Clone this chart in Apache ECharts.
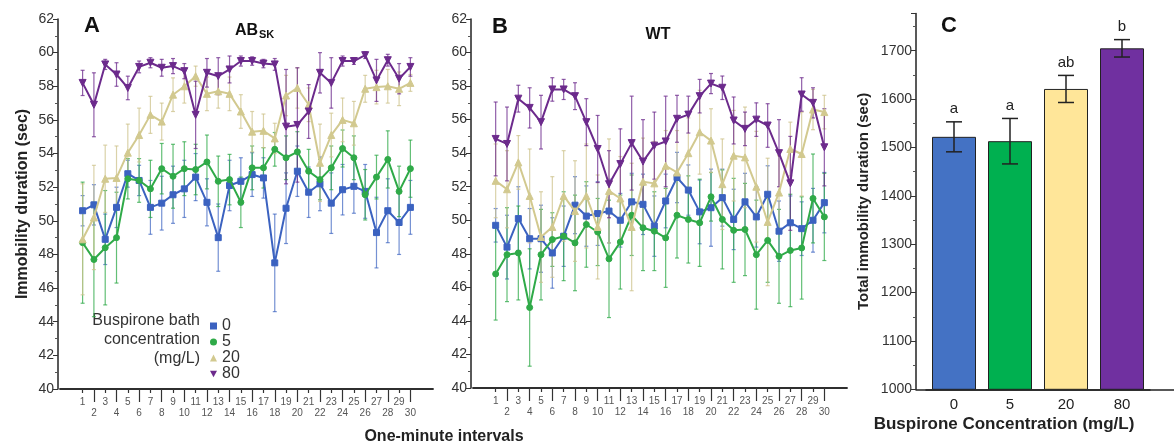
<!DOCTYPE html>
<html>
<head>
<meta charset="utf-8">
<script src="https://cdn.jsdelivr.net/npm/echarts@6/dist/echarts.min.js"></script>
<style>
  html, body { margin: 0; background: #fff; }
  #chart { width: 1174px; height: 447px; }
</style>
</head>
<body>
<div id="chart"></div>
<script>
// one-minute intervals
const minutes = [1, 2, 3, 4, 5, 6, 7, 8, 9, 10, 11, 12, 13, 14, 15, 16, 17, 18, 19, 20, 21, 22, 23, 24, 25, 26, 27, 28, 29, 30]

// panel A - AB_SK, mean and SEM per concentration
const absk0 = [50.6, 50.95, 48.9, 50.8, 52.8, 52.4, 50.8, 51.05, 51.55, 51.9, 52.6, 51.1, 49.0, 52.1, 52.35, 52.75, 52.55, 47.5, 50.75, 52.95, 51.7, 52.2, 51.05, 51.85, 52.05, 51.75, 49.3, 50.6, 49.9, 50.8]
const absk0Err = [0.9, 1.2, 1.5, 1.2, 0.8, 0.9, 1.6, 1.6, 1.7, 1.7, 1.4, 1.4, 2.0, 1.5, 1.4, 1.3, 1.2, 2.9, 2.1, 1.5, 1.5, 1.6, 1.8, 1.5, 1.6, 1.6, 2.1, 1.9, 1.9, 1.6]
const absk5 = [48.7, 47.7, 48.4, 49.0, 52.5, 52.4, 51.9, 53.1, 52.65, 53.1, 53.05, 53.5, 52.35, 52.45, 51.1, 53.15, 53.15, 54.25, 53.75, 54.1, 52.95, 52.45, 53.15, 54.3, 53.75, 51.55, 52.6, 53.65, 51.75, 53.1]
const absk5Err = [3.6, 3.4, 3.4, 2.7, 1.2, 1.3, 1.7, 1.5, 1.9, 1.6, 1.5, 1.6, 1.5, 1.5, 1.5, 1.3, 1.2, 1.0, 1.3, 1.2, 1.3, 1.2, 1.3, 1.1, 1.3, 1.5, 1.3, 1.7, 1.5, 1.7]
const absk20 = [48.9, 50.2, 52.5, 52.55, 54.05, 55.1, 56.3, 55.9, 57.5, 58.0, 58.6, 57.55, 57.7, 57.55, 56.5, 55.3, 55.35, 54.9, 57.45, 57.9, 56.9, 53.45, 55.1, 56.0, 55.8, 57.85, 57.95, 58.0, 57.85, 58.2]
const absk20Err = [3.3, 3.1, 2.0, 1.9, 1.7, 1.6, 1.1, 1.1, 1.0, 1.0, 0.6, 1.0, 1.0, 1.0, 1.0, 1.2, 1.0, 0.9, 1.2, 1.2, 1.0, 2.3, 1.3, 1.3, 1.3, 0.8, 1.0, 1.0, 1.0, 0.5]
const absk80 = [58.2, 56.9, 59.3, 58.7, 57.9, 59.15, 59.4, 59.1, 59.2, 58.9, 56.3, 58.8, 58.6, 59.0, 59.5, 59.5, 59.35, 59.3, 55.6, 55.7, 56.5, 58.8, 58.2, 59.5, 59.5, 59.85, 58.35, 59.55, 58.45, 59.15]
const absk80Err = [0.75, 1.9, 0.3, 0.7, 0.7, 0.35, 0.3, 0.5, 0.45, 0.45, 2.0, 0.85, 1.1, 0.8, 0.3, 0.25, 0.25, 0.35, 3.4, 3.4, 1.6, 1.2, 1.5, 0.3, 0.2, 0.2, 1.25, 0.35, 0.9, 0.55]

// panel B - WT
const wt0 = [49.7, 48.4, 50.1, 48.9, 48.9, 48.05, 49.05, 50.9, 50.25, 50.4, 50.55, 50.0, 51.1, 50.95, 49.65, 51.15, 52.55, 51.8, 50.5, 50.75, 51.35, 50.05, 51.1, 50.2, 51.55, 49.35, 49.85, 49.5, 50.0, 51.05]
const wt0Err = [1.0, 1.9, 1.9, 1.8, 2.0, 2.1, 1.8, 1.7, 1.8, 1.9, 1.9, 1.6, 1.7, 1.8, 1.8, 1.6, 1.5, 1.5, 1.9, 2.3, 1.7, 1.8, 1.7, 1.8, 1.7, 1.8, 1.6, 1.6, 1.9, 1.8]
const wt5 = [46.8, 47.95, 48.05, 44.8, 47.95, 48.85, 49.05, 48.65, 49.75, 49.3, 47.7, 48.7, 50.3, 49.55, 49.35, 48.95, 50.3, 50.05, 49.85, 51.4, 50.05, 49.4, 49.45, 47.95, 48.8, 47.85, 48.2, 48.35, 51.3, 50.2]
const wt5Err = [2.75, 2.8, 2.8, 3.5, 2.7, 1.6, 2.65, 2.85, 2.55, 2.0, 3.5, 2.8, 2.4, 2.55, 2.35, 2.95, 2.55, 2.6, 2.6, 1.45, 2.95, 3.1, 2.75, 3.25, 2.5, 2.8, 3.35, 3.05, 2.65, 2.6]
const wt20 = [52.35, 51.85, 53.45, 51.45, 49.0, 49.6, 51.45, 50.55, 51.45, 49.6, 51.75, 51.3, 49.6, 52.3, 52.2, 53.25, 52.85, 54.0, 55.25, 54.75, 52.15, 53.85, 53.75, 52.0, 49.9, 51.65, 54.25, 53.95, 56.6, 56.45]
const wt20Err = [2.2, 2.3, 1.6, 2.8, 2.7, 3.0, 2.7, 3.0, 3.1, 3.1, 3.1, 2.5, 3.8, 2.6, 2.5, 2.1, 2.5, 2.1, 2.5, 1.9, 2.7, 2.7, 3.0, 3.3, 3.8, 2.2, 1.6, 2.5, 1.2, 1.0]
const wt80 = [54.85, 54.55, 57.25, 56.7, 55.85, 57.8, 57.8, 57.4, 55.85, 54.25, 52.15, 53.35, 54.6, 53.5, 54.45, 54.7, 56.05, 56.3, 57.4, 58.15, 57.9, 55.95, 55.45, 56.0, 55.65, 54.0, 52.2, 57.5, 57.0, 54.35]
const wt80Err = [2.2, 2.2, 0.8, 1.2, 1.6, 0.7, 0.6, 0.8, 1.4, 2.0, 2.0, 2.1, 2.8, 2.5, 2.0, 2.7, 1.4, 1.1, 1.0, 0.6, 0.7, 1.4, 1.0, 1.0, 1.3, 2.0, 2.8, 1.0, 0.9, 2.3]

// panel C - total immobility
const concLabels = ['0', '5', '20', '80']
const totalMean = [1522, 1513, 1621, 1705]
const totalErr = [31, 47, 28, 18]
const sigLetters = ['a', 'a', 'ab', 'b']

const FONT = '"Liberation Sans", Arial, sans-serif'
const DOWN_TRI = 'path://M0,0 L10,0 L5,9 Z'

const groups = [
  { name: '0', color: '#3b62c0', err: 'rgba(59,98,192,0.7)', symbol: 'rect', size: 6, rotate: 0, icon: 'rect' },
  { name: '5', color: '#2faa48', err: 'rgba(47,170,72,0.75)', symbol: 'circle', size: 6, rotate: 0, icon: 'circle' },
  { name: '20', color: '#d2c98f', err: 'rgba(205,195,140,0.75)', symbol: 'triangle', size: 7, rotate: 0, icon: 'triangle' },
  { name: '80', color: '#6c2a8c', err: 'rgba(108,42,140,0.75)', symbol: 'triangle', size: 7, rotate: 180, icon: DOWN_TRI }
]

// padded category axis: two empty slots each side of the 30 minutes
const xCats = ['-1', '0'].concat(minutes.map(String), ['31', '32'])
const isMinute = (i) => i >= 2 && i <= 31
const oddMinute = (i) => isMinute(i) && (i - 1) % 2 === 1
const evenMinute = (i) => isMinute(i) && (i - 1) % 2 === 0

const minuteAxes = (gridIndex) => {
  const base = {
    gridIndex,
    type: 'category',
    data: xCats,
    boundaryGap: false,
    position: 'bottom',
    axisLine: { lineStyle: { color: '#222', width: 1.5 } },
    splitLine: { show: false }
  }
  return [
    Object.assign({}, base, {
      axisTick: { interval: oddMinute, length: 4, lineStyle: { color: '#333', width: 1.2 } },
      axisLabel: { interval: oddMinute, margin: 8, fontSize: 10, color: '#555', fontFamily: FONT }
    }),
    Object.assign({}, base, {
      axisTick: { interval: evenMinute, length: 13, lineStyle: { color: '#333', width: 1.2 } },
      axisLabel: { interval: evenMinute, margin: 19, fontSize: 10, color: '#555', fontFamily: FONT }
    })
  ]
}

const durationAxis = (gridIndex, name) => ({
  gridIndex,
  type: 'value',
  min: 40,
  max: 62,
  interval: 2,
  offset: 2,
  name,
  nameLocation: 'middle',
  nameGap: 27,
  nameTextStyle: { fontSize: 16, fontWeight: 'bold', color: '#222', fontFamily: FONT },
  axisLine: { show: true, lineStyle: { color: '#222', width: 1.5 } },
  axisTick: { show: true, length: 5, lineStyle: { color: '#333' } },
  minorTick: { show: true, splitNumber: 2, length: 3, lineStyle: { color: '#555' } },
  splitLine: { show: false },
  axisLabel: { fontSize: 14, color: '#333', margin: 4, fontFamily: FONT }
})

// error bars drawn through the axis scale
const errorBar = (color, cap, width) => (params, api) => {
  const x = api.value(0)
  const lo = api.coord([x, api.value(1)])
  const hi = api.coord([x, api.value(2)])
  const st = { stroke: color, lineWidth: width }
  return {
    type: 'group',
    children: [
      { type: 'line', shape: { x1: lo[0], y1: lo[1], x2: hi[0], y2: hi[1] }, style: st },
      { type: 'line', shape: { x1: lo[0] - cap, y1: lo[1], x2: lo[0] + cap, y2: lo[1] }, style: st },
      { type: 'line', shape: { x1: hi[0] - cap, y1: hi[1], x2: hi[0] + cap, y2: hi[1] }, style: st }
    ]
  }
}

const panelSeries = (xIdx, yIdx, means, errs) => {
  const errSeries = []
  const lineSeries = []
  groups.forEach((g, k) => {
    errSeries.push({
      type: 'custom',
      name: g.name,
      xAxisIndex: xIdx,
      yAxisIndex: yIdx,
      renderItem: errorBar(g.err, 2, 1.2),
      encode: { x: 0, y: [1, 2] },
      data: means[k].map((m, i) => [i + 2, m - errs[k][i], m + errs[k][i]]),
      z: 2,
      silent: true
    })
    lineSeries.push({
      type: 'line',
      name: g.name,
      xAxisIndex: xIdx,
      yAxisIndex: yIdx,
      data: means[k].map((m, i) => [i + 2, m]),
      symbol: g.symbol,
      symbolSize: g.size,
      symbolRotate: g.rotate,
      lineStyle: { color: g.color, width: 2 },
      itemStyle: { color: g.color, borderColor: g.color, borderWidth: 1 },
      z: 3 + k
    })
  })
  return errSeries.concat(lineSeries)
}

const chart = echarts.init(document.getElementById('chart'))

const option = {
  animation: false,
  backgroundColor: '#fff',
  textStyle: { fontFamily: FONT },
  grid: [
    { left: 60, right: 741, top: 19, bottom: 58, outerBoundsMode: 'none' },
    { left: 473, right: 327, top: 19, bottom: 59, outerBoundsMode: 'none' },
    { left: 926, right: 24, top: 13.5, bottom: 57.7, outerBoundsMode: 'none' },
    { left: 916, right: 0, top: 13.5, bottom: 57.7, outerBoundsMode: 'none' }
  ],
  xAxis: minuteAxes(0).concat(minuteAxes(1), [
    {
      gridIndex: 2,
      type: 'category',
      data: concLabels,
      axisLine: { lineStyle: { color: '#222', width: 1.5 } },
      axisTick: { alignWithLabel: true, length: 4, lineStyle: { color: '#333' } },
      axisLabel: { fontSize: 15, color: '#222', margin: 8, fontFamily: FONT }
    },
    {
      gridIndex: 3,
      type: 'value',
      min: 0,
      max: 1,
      axisLine: { show: true, lineStyle: { color: '#222', width: 1.5 } },
      axisTick: { show: false },
      axisLabel: { show: false },
      splitLine: { show: false }
    }
  ]),
  yAxis: [
    durationAxis(0, 'Immobility duration (sec)'),
    durationAxis(1, ''),
    {
      gridIndex: 2,
      type: 'value',
      min: 1000,
      max: 1777,
      interval: 100,
      offset: 10,
      name: 'Total immobility duration (sec)',
      nameLocation: 'middle',
      nameGap: 45,
      nameTextStyle: { fontSize: 15, fontWeight: 'bold', color: '#222', fontFamily: FONT },
      axisLine: { show: true, lineStyle: { color: '#222', width: 1.5 } },
      axisTick: { show: true, length: 5, lineStyle: { color: '#333' } },
      minorTick: { show: true, splitNumber: 2, length: 3, lineStyle: { color: '#555' } },
      splitLine: { show: false },
      axisLabel: { fontSize: 14, color: '#333', margin: 4, showMaxLabel: false, fontFamily: FONT, formatter: (v) => String(v) }
    },
    { gridIndex: 3, type: 'value', show: false }
  ],
  legend: {
    orient: 'vertical',
    left: 205,
    top: 313,
    itemGap: 0,
    itemWidth: 7,
    itemHeight: 7,
    selectedMode: false,
    textStyle: { fontSize: 16, lineHeight: 14.5, color: '#333', fontFamily: FONT },
    data: groups.map((g) => ({ name: g.name, icon: g.icon, itemStyle: { color: g.color } }))
  },
  graphic: [
    { type: 'text', x: 200, y: 311, style: { text: 'Buspirone bath\nconcentration\n(mg/L)', fill: '#333', font: '16px ' + FONT, lineHeight: 19, textAlign: 'right' } },
    { type: 'text', x: 92, y: 26, style: { text: 'A', fill: '#111', font: 'bold 22px ' + FONT, textAlign: 'center', textVerticalAlign: 'middle' } },
    { type: 'text', x: 500, y: 27, style: { text: 'B', fill: '#111', font: 'bold 22px ' + FONT, textAlign: 'center', textVerticalAlign: 'middle' } },
    { type: 'text', x: 949, y: 26, style: { text: 'C', fill: '#111', font: 'bold 22px ' + FONT, textAlign: 'center', textVerticalAlign: 'middle' } },
    { type: 'text', x: 258, y: 31, style: { text: 'AB', fill: '#111', font: 'bold 16px ' + FONT, textAlign: 'right', textVerticalAlign: 'middle' } },
    { type: 'text', x: 259, y: 35, style: { text: 'SK', fill: '#111', font: 'bold 11px ' + FONT, textAlign: 'left', textVerticalAlign: 'middle' } },
    { type: 'text', x: 658, y: 35, style: { text: 'WT', fill: '#111', font: 'bold 16px ' + FONT, textAlign: 'center', textVerticalAlign: 'middle' } },
    { type: 'text', x: 444, y: 437, style: { text: 'One-minute intervals', fill: '#222', font: 'bold 16px ' + FONT, textAlign: 'center', textVerticalAlign: 'middle' } },
    { type: 'text', x: 1004, y: 424, style: { text: 'Buspirone Concentration (mg/L)', fill: '#222', font: 'bold 17px ' + FONT, textAlign: 'center', textVerticalAlign: 'middle' } }
  ],
  series: panelSeries(0, 0, [absk0, absk5, absk20, absk80], [absk0Err, absk5Err, absk20Err, absk80Err])
    .concat(panelSeries(2, 1, [wt0, wt5, wt20, wt80], [wt0Err, wt5Err, wt20Err, wt80Err]))
    .concat([
      {
        type: 'bar',
        xAxisIndex: 4,
        yAxisIndex: 2,
        barWidth: 44,
        data: totalMean.map((v, i) => ({ value: v, itemStyle: { color: ['#4472c4', '#00b050', '#ffe699', '#7030a0'][i] } })),
        itemStyle: { borderColor: '#222', borderWidth: 1 },
        z: 2
      },
      {
        type: 'custom',
        xAxisIndex: 4,
        yAxisIndex: 2,
        encode: { x: 0, y: [1, 2] },
        data: totalMean.map((v, i) => [i, v - totalErr[i], v + totalErr[i]]),
        renderItem: (params, api) => {
          const grp = errorBar('#222', 8, 1.5)(params, api)
          const hi = api.coord([api.value(0), api.value(2)])
          grp.children.push({
            type: 'text',
            x: hi[0],
            y: hi[1] - 5,
            style: { text: sigLetters[params.dataIndex], fill: '#222', font: '15px ' + FONT, textAlign: 'center', textVerticalAlign: 'bottom' }
          })
          return grp
        },
        z: 3,
        silent: true
      }
    ])
}

chart.setOption(option)
</script>
</body>
</html>
